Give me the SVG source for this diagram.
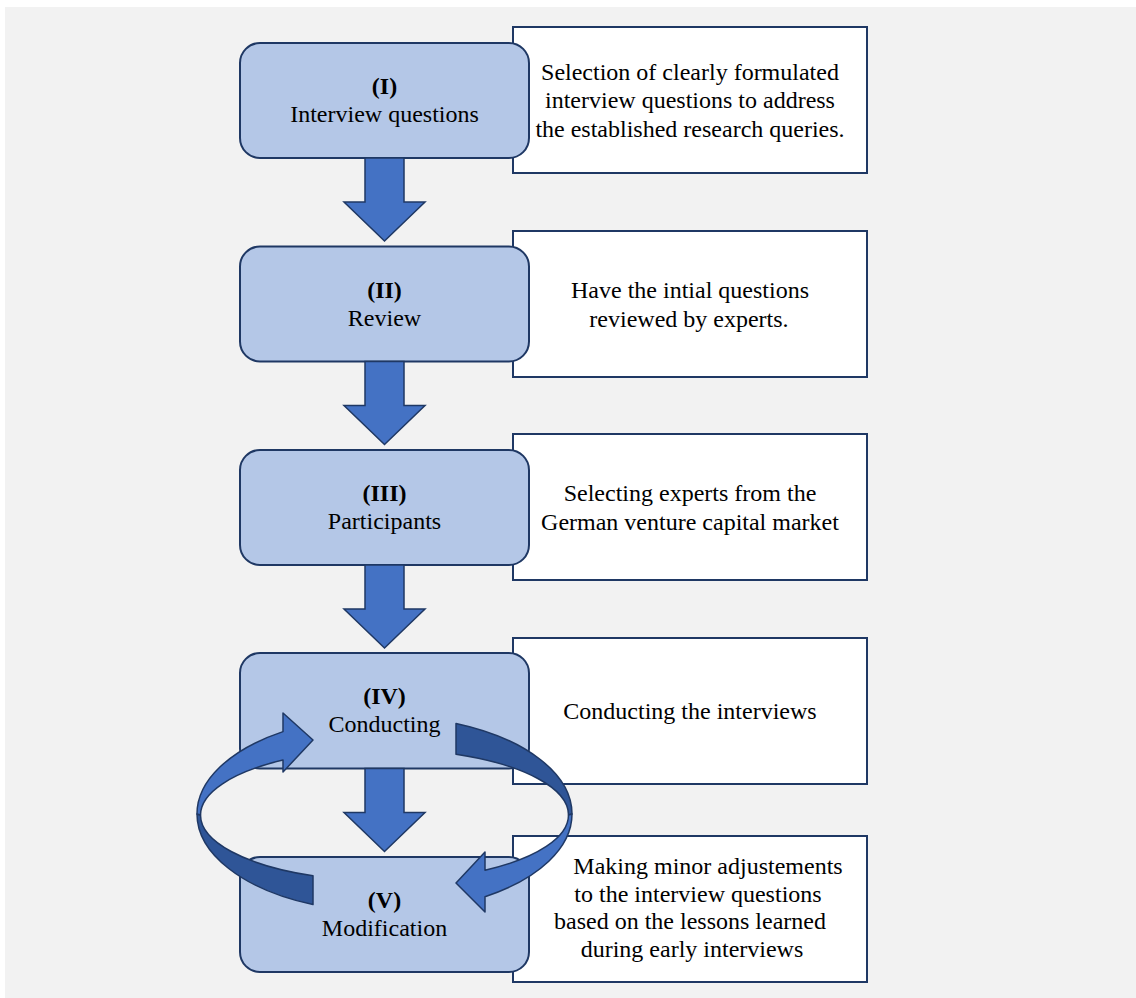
<svg xmlns="http://www.w3.org/2000/svg" width="1136" height="998" viewBox="0 0 1136 998">
<style>
.node{fill:#B4C7E7;stroke:#1F3864;stroke-width:2}
.desc{fill:#FFFFFF;stroke:#1F3864;stroke-width:2}
.t{font-family:"Liberation Serif","Times New Roman",serif;font-size:24px;fill:#000;text-anchor:middle}
.b{font-weight:bold}
.down{fill:#4472C4;stroke:#1F3864;stroke-width:1.5;stroke-linejoin:miter}
.lite{fill:#4472C4;stroke:#1F3864;stroke-width:1.5;stroke-linejoin:round}
.dark{fill:#2F5597;stroke:#1F3864;stroke-width:1.5;stroke-linejoin:round}
</style>
<defs>
<path id="downArrow" d="M365 0 L404 0 L404 44 L425 44 L384.5 83 L344 44 L365 44 Z"/>
</defs>
<rect x="0" y="0" width="1136" height="998" fill="#FFFFFF"/>
<rect x="5" y="7" width="1131" height="991" fill="#F2F2F2"/>

<g id="desc-1">
<rect class="desc" x="513" y="27" width="354" height="146"/>
<text class="t" x="690" y="79.5">Selection of clearly formulated</text>
<text class="t" x="690" y="108">interview questions to address</text>
<text class="t" x="690" y="136.5">the established research queries.</text>
</g>
<g id="desc-2">
<rect class="desc" x="513" y="231" width="354" height="146"/>
<text class="t" x="690" y="298">Have the intial questions</text>
<text class="t" x="689" y="326.5">reviewed by experts.</text>
</g>
<g id="desc-3">
<rect class="desc" x="513" y="434" width="354" height="146"/>
<text class="t" x="690" y="501">Selecting experts from the</text>
<text class="t" x="690" y="529.5">German venture capital market</text>
</g>
<g id="desc-4">
<rect class="desc" x="513" y="638" width="354" height="146"/>
<text class="t" x="690" y="719">Conducting the interviews</text>
</g>
<g id="desc-5">
<rect class="desc" x="513" y="836" width="354" height="146"/>
<text class="t" x="708" y="874">Making minor adjustements</text>
<text class="t" x="698" y="901.7">to the interview questions</text>
<text class="t" x="690" y="929.4">based on the lessons learned</text>
<text class="t" x="692" y="957">during early interviews</text>
</g>

<g id="node-1">
<rect class="node" x="240" y="43" width="289" height="115" rx="20"/>
<text class="t b" x="384.5" y="94">(I)</text>
<text class="t" x="384.5" y="122">Interview questions</text>
</g>
<g id="node-2">
<rect class="node" x="240" y="246.5" width="289" height="115" rx="20"/>
<text class="t b" x="384.5" y="297.5">(II)</text>
<text class="t" x="384.5" y="325.5">Review</text>
</g>
<g id="node-3">
<rect class="node" x="240" y="450" width="289" height="115" rx="20"/>
<text class="t b" x="384.5" y="501">(III)</text>
<text class="t" x="384.5" y="529">Participants</text>
</g>
<g id="node-4">
<rect class="node" x="240" y="653" width="289" height="115.5" rx="20"/>
<text class="t b" x="384.5" y="704">(IV)</text>
<text class="t" x="384.5" y="732">Conducting</text>
</g>
<g id="node-5">
<rect class="node" x="240" y="857" width="289" height="115" rx="20"/>
<text class="t b" x="384.5" y="908">(V)</text>
<text class="t" x="384.5" y="936">Modification</text>
</g>

<g id="connectors">
<use href="#downArrow" class="down" transform="translate(0,158)"/>
<use href="#downArrow" class="down" transform="translate(0,361.5)"/>
<use href="#downArrow" class="down" transform="translate(0,565)"/>
<use href="#downArrow" class="down" transform="translate(0,768.5)"/>
<g id="loop-back">
<path class="dark" d="M197 814 A187.5 98 0 0 0 313 904.6 L313 875.8 A184 66 0 0 1 200.5 815 Z"/>
<path class="lite" d="M197 814 A187.5 98 0 0 1 283 731.6 L283 713 L313 740 L283 772 L283 760 A184 66 0 0 0 200.5 815 Z"/>
</g>
<g id="loop-forward">
<path class="dark" d="M456 723.4 A187.5 98 0 0 1 572 814 L568.5 815 A184 66 0 0 0 456 754.2 Z"/>
<path class="lite" d="M572 814 A187.5 98 0 0 1 485 896.7 L485 912 L456 883 L485 852 L485 870.3 A184 66 0 0 0 568.5 815 Z"/>
</g>
</g>
</svg>
